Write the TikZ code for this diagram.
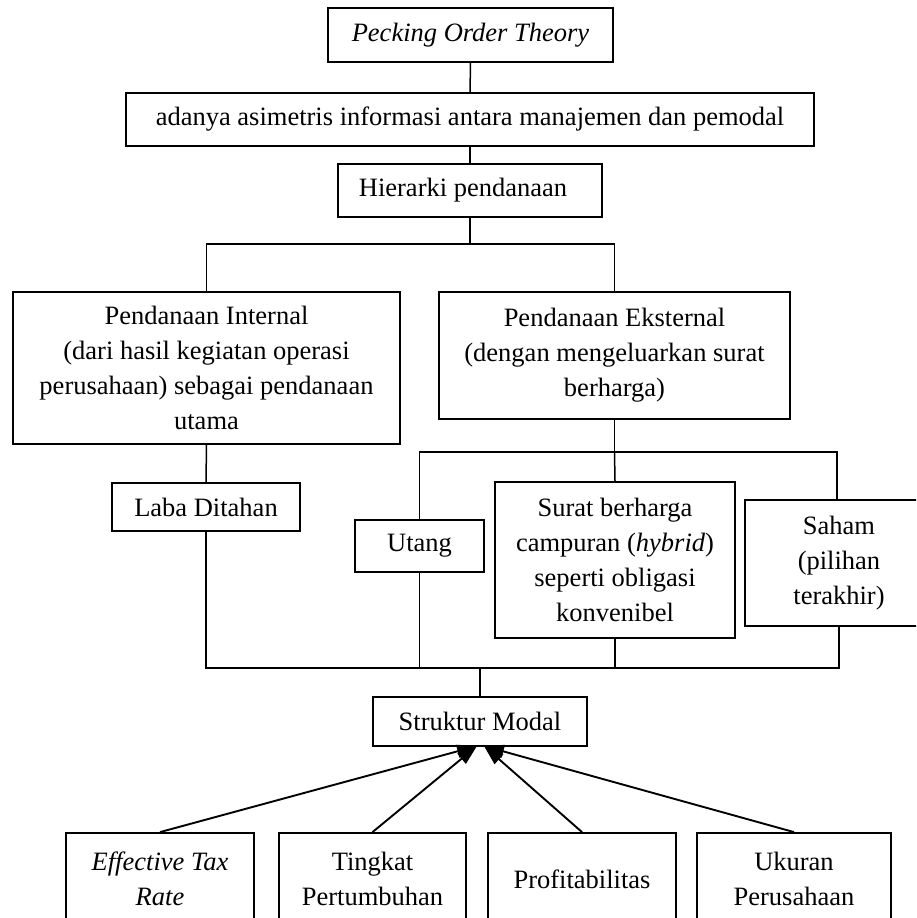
\documentclass[tikz,border=0pt]{standalone}
\usepackage{fontspec}
\setmainfont{Liberation Serif}
\usetikzlibrary{arrows.meta}
\begin{document}
\begin{tikzpicture}[x=1pt,y=-1pt,
  box/.style={draw,line width=1.8pt,inner sep=0pt,align=center,font=\fontsize{26.5}{35}\selectfont},
  conn/.style={line width=1.5pt},
  arr/.style={line width=1.9pt,-{Triangle[length=20pt,width=13pt]}}]
\useasboundingbox (0,0) rectangle (916,918);
\clip (0,0) rectangle (916,918);
\node[box,minimum width=285,minimum height=54] (pot) at (470.5,35) {\itshape Pecking Order Theory};
\node[box,minimum width=688,minimum height=53] (asim) at (470,119.5) {adanya asimetris informasi antara manajemen dan pemodal};
\node[box,minimum width=264,minimum height=53] (hier) at (470,190.5) {Hierarki pendanaan\hspace{14pt}};
\node[box,minimum width=387,minimum height=152] (int) at (206.5,368) {Pendanaan Internal\\(dari hasil kegiatan operasi\\perusahaan) sebagai pendanaan\\utama};
\node[box,minimum width=351,minimum height=127] (ext) at (614.5,355.5) {Pendanaan Eksternal\\(dengan mengeluarkan surat\\berharga)};
\node[box,minimum width=188,minimum height=48] (laba) at (206,507) {Laba Ditahan};
\node[box,minimum width=129,minimum height=52] (utang) at (419.5,546) {Utang};
\node[box,minimum width=240,minimum height=156] (surat) at (615,560) {Surat berharga\\campuran (\textit{hybrid})\\seperti obligasi\\konvenibel};
\node[box,minimum width=196,minimum height=126] (saham) at (843,563) {\hspace*{-8pt}Saham\\\hspace*{-8pt}(pilihan\\\hspace*{-8pt}terakhir)};
\node[box,minimum width=214,minimum height=49] (struk) at (480,721.5) {Struktur Modal};
\node[box,minimum width=188,minimum height=92] (eff) at (160,879) {\itshape Effective Tax\\\itshape Rate};
\node[box,minimum width=187,minimum height=92] (ting) at (372.5,879) {Tingkat\\Pertumbuhan};
\node[box,minimum width=188,minimum height=92] (prof) at (582,879) {Profitabilitas};
\node[box,minimum width=194,minimum height=92] (uk) at (794,879) {Ukuran\\Perusahaan};
\coordinate (j1) at (470,244);
\coordinate (j2) at (614.5,452);
\coordinate (j3) at (480,668);
\coordinate (sN) at ([xshift=-6pt]saham.north);
\coordinate (sS) at ([xshift=-4pt]saham.south);
\coordinate (tipL) at (477,746);
\coordinate (tipR) at (484,746);
\draw[conn] (pot) -- (asim);
\draw[conn] (asim) -- (hier);
\draw[conn] (hier.south) -- (j1);
\draw[conn] (int.north) |- (j1) -| (ext.north);
\draw[conn] (int.south) -- (laba.north);
\draw[conn] (ext.south) -- (j2);
\draw[conn] (utang.north) |- (j2) -| (sN);
\draw[conn] (j2) -- (surat.north);
\draw[conn] (laba.south) |- (j3) -| (sS);
\draw[conn] (utang.south) -- (utang.south |- j3);
\draw[conn] (surat.south) -- (surat.south |- j3);
\draw[conn] (j3) -- (struk.north);
\draw[arr] (eff.north) -- (tipL);
\draw[arr] (ting.north) -- (tipL);
\draw[arr] (prof.north) -- (tipR);
\draw[arr] (uk.north) -- (tipR);
\end{tikzpicture}
\end{document}
